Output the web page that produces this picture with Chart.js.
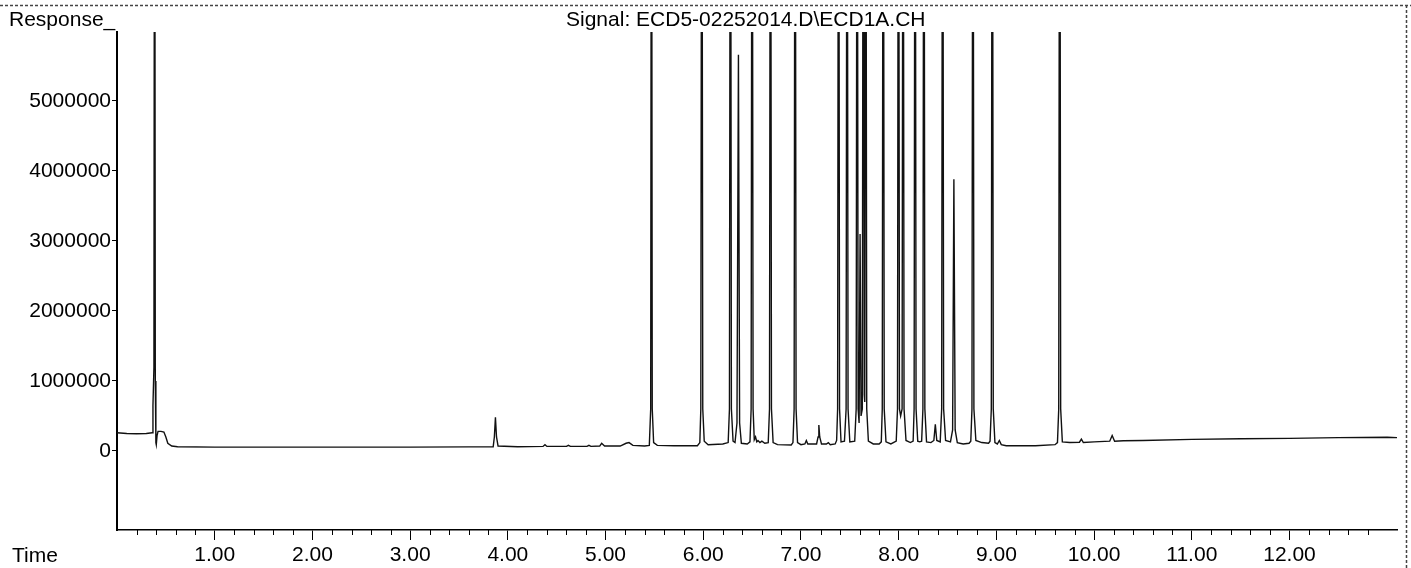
<!DOCTYPE html>
<html>
<head>
<meta charset="utf-8">
<script src="https://cdn.jsdelivr.net/npm/chart.js@4/dist/chart.umd.min.js"></script>
<style>
  body { margin: 0; background: #fff; }
  canvas { display: block; }
</style>
</head>
<body>
<canvas id="chrom" width="1411" height="568"></canvas>
<script>
// signal trace: retention time (min) and response
// (peaks that run off the top of the printout get an off-scale apex)
var traceTime = [
    0.00, 0.10, 0.20, 0.30, 0.36, 0.368, 0.378, 0.385, 0.392, 0.398, 0.402, 0.410, 0.420, 0.450, 0.480, 0.500, 0.520, 0.560, 0.620,
    1.00, 2.00, 3.00, 3.60, 3.850, 3.862, 3.873, 3.884, 3.900, 4.10,
    4.36, 4.38, 4.40, 4.60, 4.62, 4.64, 4.81, 4.83, 4.85, 4.94, 4.96, 4.99, 5.15, 5.21, 5.24, 5.28, 5.40,
    5.448, 5.462, 5.470, 5.478, 5.492, 5.53, 5.70,
    5.94, 5.965, 5.975, 5.985, 5.995, 6.01, 6.05, 6.20,
    6.255, 6.268, 6.278, 6.288, 6.305, 6.325, 6.345, 6.360, 6.372, 6.39, 6.45,
    6.478, 6.490, 6.500, 6.510, 6.522, 6.535, 6.548, 6.56, 6.58, 6.60, 6.63,
    6.665, 6.678, 6.688, 6.698, 6.715, 6.76, 6.90,
    6.918, 6.930, 6.940, 6.950, 6.965, 7.00, 7.04, 7.055, 7.07, 7.16, 7.175, 7.183, 7.192, 7.21, 7.26, 7.28, 7.30, 7.35,
    7.365, 7.375, 7.385, 7.395, 7.41, 7.445, 7.462, 7.472, 7.482, 7.50, 7.55,
    7.565, 7.575, 7.585, 7.595, 7.605, 7.615, 7.628, 7.638, 7.648, 7.653, 7.663, 7.673, 7.69, 7.74, 7.80,
    7.822, 7.832, 7.842, 7.852, 7.87, 7.92,
    7.975, 7.988, 7.998, 8.008, 8.020, 8.035, 8.045, 8.055, 8.075, 8.12,
    8.148, 8.158, 8.168, 8.178, 8.195, 8.215, 8.235, 8.248, 8.258, 8.268, 8.285, 8.33, 8.36, 8.375, 8.39,
    8.425, 8.440, 8.450, 8.460, 8.48, 8.53, 8.552, 8.565, 8.578, 8.60, 8.66, 8.72,
    8.738, 8.750, 8.760, 8.770, 8.79, 8.85, 8.92,
    8.935, 8.948, 8.958, 8.968, 8.985, 9.01, 9.03, 9.05, 9.10, 9.40, 9.60,
    9.625, 9.638, 9.648, 9.658, 9.675, 9.75, 9.85, 9.87, 9.89, 10.00, 10.16, 10.185, 10.21, 10.30,
    10.50, 11.00, 11.50, 12.00, 12.50, 13.00, 13.10
];
var traceResponse = [
    260000, 250000, 245000, 250000, 260000, 650000, 1200000, 12000000, 1000000, 120000, 90000, 220000, 280000, 280000, 270000, 200000, 110000, 70000, 60000,
    55000, 55000, 55000, 58000, 60000, 200000, 480000, 200000, 70000, 60000,
    65000, 90000, 65000, 65000, 80000, 65000, 65000, 80000, 65000, 70000, 110000, 70000, 70000, 110000, 120000, 80000, 70000,
    80000, 600000, 12000000, 600000, 120000, 80000, 75000,
    75000, 120000, 600000, 12000000, 600000, 140000, 90000, 100000,
    120000, 600000, 12000000, 600000, 140000, 120000, 400000, 5660000, 400000, 110000, 100000,
    130000, 600000, 12000000, 600000, 160000, 200000, 130000, 150000, 120000, 140000, 110000,
    120000, 600000, 12000000, 600000, 120000, 90000, 85000,
    120000, 600000, 12000000, 600000, 120000, 90000, 100000, 150000, 100000, 100000, 200000, 370000, 200000, 100000, 100000, 120000, 90000, 100000,
    150000, 600000, 12000000, 600000, 130000, 140000, 600000, 12000000, 600000, 130000, 140000,
    600000, 12000000, 600000, 400000, 3100000, 500000, 600000, 12000000, 800000, 700000, 12000000, 600000, 140000, 100000, 100000,
    130000, 600000, 12000000, 600000, 130000, 100000,
    140000, 600000, 12000000, 600000, 500000, 600000, 12000000, 600000, 150000, 120000,
    140000, 600000, 12000000, 600000, 140000, 130000, 140000, 600000, 12000000, 600000, 130000, 120000, 150000, 380000, 150000,
    130000, 600000, 12000000, 600000, 150000, 130000, 300000, 3880000, 300000, 120000, 100000, 110000,
    140000, 600000, 12000000, 600000, 150000, 120000, 110000,
    140000, 600000, 12000000, 600000, 120000, 100000, 150000, 90000, 75000, 75000, 90000,
    120000, 600000, 12000000, 600000, 130000, 120000, 125000, 170000, 120000, 130000, 140000, 220000, 140000, 145000,
    150000, 165000, 175000, 180000, 190000, 195000, 190000
];

var yTickValues = [0, 1000000, 2000000, 3000000, 4000000, 5000000];
var xTickLabels = ['1.00', '2.00', '3.00', '4.00', '5.00', '6.00', '7.00', '8.00', '9.00', '10.00', '11.00', '12.00'];

var signalTitle = 'Signal: ECD5-02252014.D\\ECD1A.CH';
var yAxisName = 'Response_';
var xAxisName = 'Time';

var FONT = '"Liberation Sans", Arial, sans-serif';

function isWhole(v) {
    return Math.abs(v - Math.round(v)) < 1e-6;
}

// texts, minor ticks and the page border of the printout
var printoutPlugin = {
    id: 'printout',
    afterDraw: function(chart) {
        var ctx = chart.ctx;
        var xs = chart.scales.x;
        var area = chart.chartArea;

        ctx.save();
        ctx.strokeStyle = '#000';
        ctx.lineWidth = 1;
        xs.ticks.forEach(function(t) {
            if (isWhole(t.value)) return;
            var px = Math.round(xs.getPixelForValue(t.value)) + 0.5;
            ctx.beginPath();
            ctx.moveTo(px, area.bottom);
            ctx.lineTo(px, area.bottom + 5);
            ctx.stroke();
        });

        ctx.fillStyle = '#000';
        ctx.font = '21px ' + FONT;
        ctx.textBaseline = 'alphabetic';
        ctx.textAlign = 'left';
        ctx.fillText(yAxisName, 9, 26);
        ctx.fillText(signalTitle, 566, 26);
        ctx.fillText(xAxisName, 12, 562);

        // scanned page edges
        ctx.strokeStyle = '#444';
        ctx.lineWidth = 1.5;
        ctx.setLineDash([3, 2]);
        ctx.beginPath();
        ctx.moveTo(0, 5.5);
        ctx.lineTo(1411, 5.5);
        ctx.moveTo(1406.5, 5);
        ctx.lineTo(1406.5, 568);
        ctx.stroke();
        ctx.restore();
    }
};

var points = traceTime.map(function(t, i) {
    return { x: t, y: traceResponse[i] };
});

new Chart(document.getElementById('chrom'), {
    type: 'line',
    data: {
        datasets: [{
            data: points,
            borderColor: '#111',
            borderWidth: 1.4,
            pointRadius: 0,
            tension: 0,
            fill: false
        }]
    },
    options: {
        responsive: false,
        animation: false,
        layout: { padding: { top: 32, right: 14, left: 0, bottom: 0 } },
        plugins: {
            legend: { display: false },
            tooltip: { enabled: false }
        },
        scales: {
            x: {
                type: 'linear',
                min: 0,
                max: 13.1,
                afterFit: function(s) { s.height = 38; },
                afterBuildTicks: function(s) {
                    s.ticks = s.ticks.filter(function(t) {
                        return t.value > 0.1 && t.value < 13.05;
                    });
                },
                border: { display: true, color: '#000', width: 1.5 },
                grid: {
                    drawOnChartArea: false,
                    drawTicks: true,
                    tickLength: 10,
                    tickWidth: 1,
                    tickColor: function(c) {
                        return c.tick && isWhole(c.tick.value) ? '#000' : 'rgba(0,0,0,0)';
                    }
                },
                ticks: {
                    stepSize: 0.2,
                    autoSkip: false,
                    maxRotation: 0,
                    padding: 3,
                    color: '#000',
                    font: { family: FONT, size: 21 },
                    callback: function(value) {
                        if (!isWhole(value)) return '';
                        var label = xTickLabels[Math.round(value) - 1];
                        return label === undefined ? '' : label;
                    }
                }
            },
            y: {
                min: -1129000,
                max: 5985000,
                afterFit: function(s) { s.width = 117; },
                afterBuildTicks: function(s) {
                    s.ticks = yTickValues.map(function(v) { return { value: v }; });
                },
                border: { display: true, color: '#000', width: 2 },
                grid: {
                    drawOnChartArea: false,
                    drawTicks: true,
                    tickLength: 5,
                    color: '#000'
                },
                ticks: {
                    padding: 1,
                    color: '#000',
                    font: { family: FONT, size: 21 },
                    callback: function(value) { return String(value); }
                }
            }
        }
    },
    plugins: [printoutPlugin]
});
</script>
</body>
</html>
